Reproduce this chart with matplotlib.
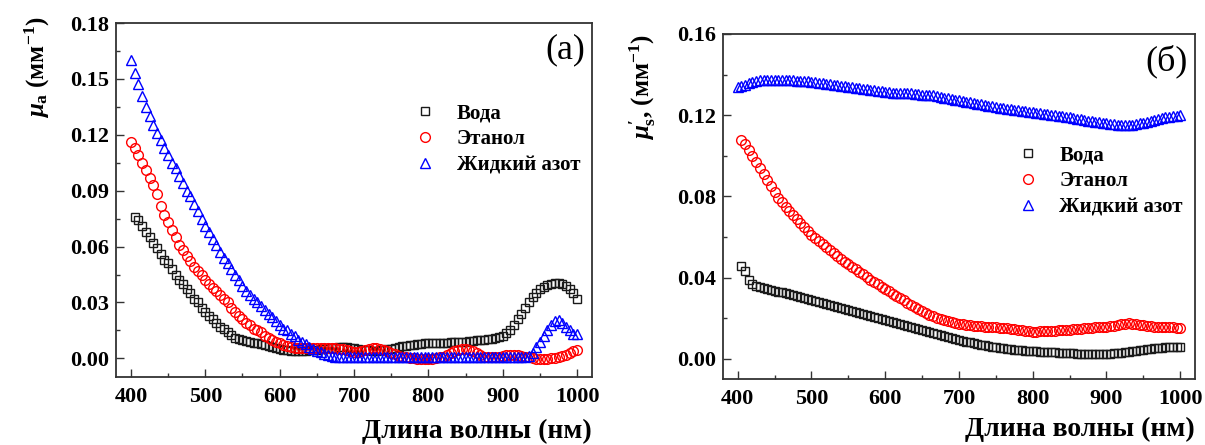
import matplotlib
matplotlib.use("Agg")
import matplotlib.pyplot as plt
import numpy as np
from matplotlib.ticker import MultipleLocator

plt.rcParams["font.family"] = ["Liberation Serif", "DejaVu Serif"]
plt.rcParams["font.weight"] = "bold"
plt.rcParams["mathtext.fontset"] = "custom"
plt.rcParams["mathtext.rm"] = "Liberation Serif:bold"
plt.rcParams["mathtext.it"] = "Liberation Serif:italic:bold"
plt.rcParams["mathtext.bf"] = "Liberation Serif:bold"

labels = ["Вода", "Этанол", "Жидкий азот"]

# wavelength grids (nm)
wl_full = np.arange(400, 1001, 5)   # 400 ... 1000
wl_from405 = np.arange(405, 1001, 5)  # 405 ... 1000

# (a) absorption coefficient, mm^-1
mua_water = [
    0.076, 0.074, 0.071, 0.068, 0.065, 0.062, 0.059, 0.056, 0.053, 0.051,
    0.048, 0.045, 0.042, 0.040, 0.037, 0.035, 0.032, 0.030, 0.027, 0.025,
    0.023, 0.021, 0.019, 0.017, 0.0155, 0.014, 0.0125, 0.011, 0.0105, 0.0098,
    0.0093, 0.009, 0.0085, 0.008, 0.0075, 0.007, 0.0065, 0.006, 0.0055, 0.005,
    0.0047, 0.0044, 0.0042, 0.004, 0.004, 0.0041, 0.0042, 0.0043, 0.0045, 0.0047,
    0.005, 0.0052, 0.0055, 0.0057, 0.0058, 0.006, 0.006, 0.006, 0.0058, 0.0055,
    0.005, 0.0047, 0.0045, 0.0043, 0.0042, 0.0042, 0.0043, 0.0045, 0.0048, 0.005,
    0.0055, 0.006, 0.0065, 0.0068, 0.007, 0.0072, 0.0075, 0.0078, 0.008, 0.0082,
    0.0083, 0.0084, 0.0084, 0.0085, 0.0085, 0.0086, 0.0087, 0.0088, 0.0089, 0.009,
    0.0092, 0.0094, 0.0096, 0.0098, 0.010, 0.0103, 0.0106, 0.011, 0.0115, 0.012,
    0.0135, 0.015, 0.018, 0.021, 0.024, 0.027, 0.030, 0.033, 0.035, 0.037,
    0.0385, 0.0395, 0.040, 0.0405, 0.0405, 0.040, 0.039, 0.037, 0.035, 0.032,
]
mua_ethanol = [
    0.116, 0.113, 0.109, 0.105, 0.101, 0.097, 0.093, 0.088, 0.082, 0.077,
    0.073, 0.069, 0.065, 0.061, 0.058, 0.055, 0.052, 0.049, 0.047, 0.045,
    0.042, 0.040, 0.038, 0.036, 0.034, 0.032, 0.030, 0.027, 0.025, 0.023,
    0.021, 0.019, 0.018, 0.016, 0.015, 0.014, 0.012, 0.011, 0.010, 0.009,
    0.008, 0.007, 0.0065, 0.006, 0.0055, 0.0055, 0.0055, 0.0055, 0.0055, 0.0055,
    0.0055, 0.0055, 0.0055, 0.0055, 0.0055, 0.0055, 0.005, 0.0048, 0.0045, 0.004,
    0.0035, 0.0035, 0.004, 0.0045, 0.005, 0.0055, 0.0055, 0.005, 0.0045, 0.004,
    0.003, 0.0025, 0.0015, 0.001, 0.0005, 0.0, 0.0, -0.0003, -0.0005, -0.0005,
    -0.0005, -0.0003, 0.0, 0.0005, 0.001, 0.002, 0.003, 0.004, 0.0045, 0.005,
    0.005, 0.0045, 0.004, 0.003, 0.002, 0.001, 0.0005, 0.0005, 0.0005, 0.001,
    0.0015, 0.002, 0.002, 0.002, 0.002, 0.0015, 0.001, 0.0005, 0.0, -0.0005,
    -0.0005, -0.0005, -0.0003, 0.0, 0.0003, 0.0007, 0.0012, 0.002, 0.003, 0.0038,
    0.0045,
]
mua_n2 = [
    0.160, 0.153, 0.147, 0.141, 0.135, 0.130, 0.125, 0.121, 0.117, 0.113,
    0.109, 0.105, 0.102, 0.098, 0.094, 0.090, 0.087, 0.083, 0.079, 0.075,
    0.071, 0.068, 0.064, 0.061, 0.057, 0.054, 0.051, 0.048, 0.045, 0.042,
    0.039, 0.036, 0.034, 0.032, 0.030, 0.028, 0.026, 0.024, 0.022, 0.020,
    0.018, 0.016, 0.015, 0.013, 0.012, 0.010, 0.009, 0.0075, 0.006, 0.005,
    0.004, 0.0032, 0.0025, 0.0018, 0.0012, 0.001, 0.001, 0.001, 0.001, 0.001,
    0.001, 0.001, 0.001, 0.001, 0.001, 0.001, 0.001, 0.001, 0.001, 0.001,
    0.001, 0.001, 0.001, 0.001, 0.001, 0.001, 0.001, 0.001, 0.001, 0.001,
    0.001, 0.001, 0.001, 0.001, 0.001, 0.001, 0.001, 0.001, 0.001, 0.001,
    0.001, 0.001, 0.001, 0.001, 0.001, 0.001, 0.001, 0.001, 0.001, 0.001,
    0.001, 0.001, 0.001, 0.001, 0.001, 0.001, 0.001, 0.0015, 0.003, 0.006,
    0.009, 0.012, 0.015, 0.018, 0.020, 0.0205, 0.019, 0.017, 0.015, 0.013,
    0.013,
]

# (б) reduced scattering coefficient, mm^-1
mus_water = [
    0.0455, 0.043, 0.039, 0.037, 0.036, 0.0355, 0.035, 0.0345, 0.034, 0.0335,
    0.033, 0.0328, 0.0325, 0.032, 0.0315, 0.031, 0.0305, 0.030, 0.0295, 0.029,
    0.0285, 0.028, 0.0275, 0.027, 0.0265, 0.026, 0.0255, 0.025, 0.0245, 0.024,
    0.0235, 0.023, 0.0225, 0.022, 0.0215, 0.021, 0.0205, 0.020, 0.0195, 0.019,
    0.0185, 0.018, 0.0175, 0.017, 0.0165, 0.016, 0.0155, 0.015, 0.0145, 0.014,
    0.0135, 0.013, 0.0125, 0.012, 0.0115, 0.011, 0.0105, 0.010, 0.0095, 0.009,
    0.0087, 0.0083, 0.008, 0.0077, 0.0073, 0.007, 0.0066, 0.0063, 0.006, 0.0057,
    0.0054, 0.0051, 0.0049, 0.0047, 0.0045, 0.0043, 0.0041, 0.004, 0.0038, 0.0037,
    0.0036, 0.0035, 0.0034, 0.0033, 0.0032, 0.0031, 0.003, 0.0029, 0.0028, 0.0027,
    0.0026, 0.0025, 0.0024, 0.0023, 0.0022, 0.0022, 0.0022, 0.0022, 0.0023, 0.0024,
    0.0025, 0.0026, 0.0028, 0.003, 0.0032, 0.0035, 0.0037, 0.004, 0.0042, 0.0045,
    0.0047, 0.005, 0.0052, 0.0054, 0.0055, 0.0056, 0.0057, 0.0058, 0.0059, 0.006,
]
mus_ethanol = [
    0.108, 0.106, 0.103, 0.100, 0.097, 0.094, 0.091, 0.088, 0.085, 0.082,
    0.079, 0.077, 0.075, 0.073, 0.071, 0.069, 0.067, 0.065, 0.063, 0.061,
    0.0595, 0.058, 0.0565, 0.055, 0.0535, 0.052, 0.0505, 0.049, 0.0477, 0.0465,
    0.0453, 0.044, 0.0428, 0.0415, 0.0403, 0.039, 0.0378, 0.0366, 0.0355, 0.0343,
    0.0332, 0.032, 0.031, 0.0298, 0.0287, 0.0276, 0.0265, 0.0255, 0.0245, 0.0235,
    0.0226, 0.0217, 0.021, 0.0203, 0.0196, 0.019, 0.0185, 0.018, 0.0176, 0.0172,
    0.017, 0.0167, 0.0165, 0.0163, 0.0162, 0.016, 0.0158, 0.0157, 0.0155, 0.0154,
    0.0153, 0.0152, 0.015, 0.0148, 0.0145, 0.0142, 0.014, 0.0137, 0.0135, 0.0134,
    0.0134, 0.0135, 0.0136, 0.0137, 0.0138, 0.0139, 0.014, 0.0141, 0.0142, 0.0143,
    0.0145, 0.0147, 0.0148, 0.015, 0.0151, 0.0153, 0.0154, 0.0155, 0.0157, 0.0158,
    0.016, 0.0163, 0.0167, 0.017, 0.0173, 0.0175, 0.0173, 0.017, 0.0167, 0.0164,
    0.0162, 0.016, 0.0158, 0.0157, 0.0156, 0.0155, 0.0155, 0.0154, 0.0153, 0.0152,
]
mus_n2 = [
    0.134, 0.1345, 0.135, 0.136, 0.1365, 0.137, 0.1375, 0.1375, 0.1375, 0.1375,
    0.1375, 0.1375, 0.1375, 0.1375, 0.1375, 0.1373, 0.137, 0.137, 0.1368, 0.1366,
    0.1365, 0.1362, 0.136, 0.1357, 0.1355, 0.1352, 0.135, 0.1347, 0.1345, 0.1342,
    0.134, 0.1337, 0.1335, 0.1332, 0.133, 0.1327, 0.1325, 0.1322, 0.132, 0.1317,
    0.1315, 0.1313, 0.131, 0.131, 0.131, 0.131, 0.131, 0.1308, 0.1305, 0.1303,
    0.130, 0.130, 0.130, 0.1298, 0.1295, 0.129, 0.1287, 0.1283, 0.128, 0.1277,
    0.1273, 0.127, 0.1267, 0.1263, 0.126, 0.1257, 0.1253, 0.125, 0.1247, 0.1243,
    0.124, 0.1237, 0.1235, 0.1232, 0.123, 0.1227, 0.1225, 0.1222, 0.122, 0.1217,
    0.1215, 0.1212, 0.121, 0.1208, 0.1205, 0.1203, 0.120, 0.1198, 0.1195, 0.1192,
    0.119, 0.1187, 0.1183, 0.118, 0.1176, 0.1172, 0.117, 0.1168, 0.1166, 0.1163,
    0.116, 0.1157, 0.1155, 0.1153, 0.1152, 0.115, 0.115, 0.1152, 0.1155, 0.116,
    0.1163, 0.1167, 0.117, 0.1175, 0.118, 0.1185, 0.119, 0.1193, 0.1195, 0.1198,
    0.120,
]

styles = [
    dict(marker="s", ms=5.6, mec="#1a1a1a"),
    dict(marker="o", ms=7.0, mec="#ff0000"),
    dict(marker="^", ms=7.6, mec="#0000ff"),
]


def style_axes(ax, ymax, ystep, ylabel, ylab_xy, tag, xpad):
    ax.set_xlim(380, 1020)
    ax.set_ylim(-0.01, ymax)
    ax.xaxis.set_major_locator(MultipleLocator(100))
    ax.xaxis.set_minor_locator(MultipleLocator(50))
    ax.yaxis.set_minor_locator(MultipleLocator(ystep / 2))
    ax.set_yticks(np.arange(0, ymax + 1e-9, ystep))
    ax.yaxis.set_major_formatter(plt.FormatStrFormatter("%.2f"))
    ax.tick_params(which="both", direction="in", top=False, right=False,
                   labelsize=16, width=1.0, color="#333333")
    ax.tick_params(which="major", length=5.5, pad=5)
    ax.tick_params(axis="x", which="major", pad=7)
    ax.tick_params(which="minor", length=3)
    for lab in ax.get_xticklabels() + ax.get_yticklabels():
        lab.set_fontweight("bold")
    for sp in ax.spines.values():
        sp.set_linewidth(1.3)
        sp.set_color("#333333")
    ax.set_xlabel("Длина волны (нм)", loc="right", fontsize=20,
                  fontweight="bold", labelpad=xpad)
    ax.text(ylab_xy[0], ylab_xy[1], ylabel, rotation=90, ha="center",
            va="center", fontsize=18, fontweight="bold", transform=ax.transAxes)
    ax.text(0.985, 0.97, tag, ha="right", va="top", fontsize=26,
            fontweight="normal", transform=ax.transAxes)


fig = plt.figure(figsize=(12.05, 4.45), dpi=100)
ax1 = fig.add_axes([0.0963, 0.1528, 0.395, 0.7955])
ax2 = fig.add_axes([0.600, 0.1483, 0.3917, 0.7753])

xs_a = [wl_from405, wl_full, wl_full]
for x, y, lab, st in zip(xs_a, [mua_water, mua_ethanol, mua_n2], labels, styles):
    ax1.plot(x, y, ls="none", mfc="none", mew=1.0, label=lab, **st)

xs_b = [wl_from405, wl_from405, wl_full]
for x, y, lab, st in zip(xs_b, [mus_water, mus_ethanol, mus_n2], labels, styles):
    ax2.plot(x, y, ls="none", mfc="none", mew=1.0, label=lab, **st)

style_axes(ax1, 0.18, 0.03, r"$\mu_\mathrm{a}$ (мм$^{-1}$)", (-0.166, 0.876), "(a)", 9)
style_axes(ax2, 0.16, 0.04, r"$\mu_\mathrm{s}^{\prime}$, (мм$^{-1}$)", (-0.169, 0.846), "(б)", 6)

for ax, anchor in [(ax1, (0.593, 0.815)), (ax2, (0.589, 0.72))]:
    leg = ax.legend(loc="upper left", bbox_to_anchor=anchor, frameon=False,
                    fontsize=15, handletextpad=0.9, labelspacing=0.3,
                    borderpad=0.2, handlelength=1.2)
    for t in leg.get_texts():
        t.set_fontweight("bold")

fig.savefig("out.png", dpi=100)
